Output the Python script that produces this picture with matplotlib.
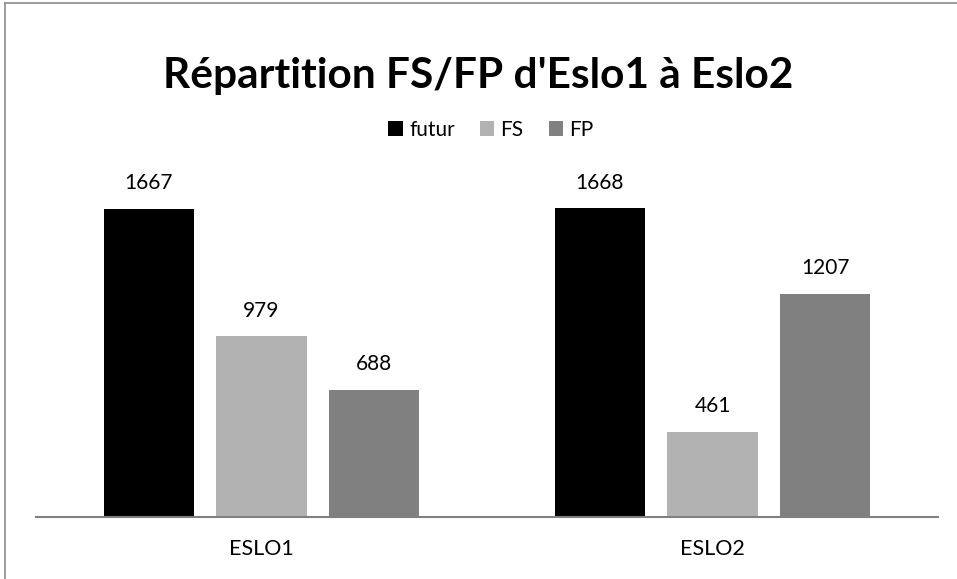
import matplotlib
matplotlib.use("Agg")
import matplotlib.pyplot as plt
from matplotlib.lines import Line2D
from matplotlib.patches import Patch
import numpy as np

categories = ["ESLO1", "ESLO2"]
series_names = ["futur", "FS", "FP"]
futur = [1667, 1668]
fs = [979, 461]
fp = [688, 1207]
colors = ["#000000", "#b2b2b2", "#808080"]

W, H = 957, 579
fig = plt.figure(figsize=(W / 100, H / 100), dpi=100)
fig.patch.set_facecolor("white")

ax = fig.add_axes([36 / W, (H - 517) / H, (938 - 36) / W, (517 - 184) / H])
x = np.arange(len(categories))
width = 0.2
offsets = [-0.25, 0.0, 0.25]
font = "Lato"
for vals, off, c, name in zip([futur, fs, fp], offsets, colors, series_names):
    bars = ax.bar(x + off, vals, width=width, color=c, label=name, zorder=2)
    for b, v in zip(bars, vals):
        ax.annotate(str(v), (b.get_x() + b.get_width() / 2, v), xytext=(0, 11),
                    textcoords="offset points", ha="center", va="bottom",
                    fontsize=15, family=font, color="#000000")

ax.set_xlim(-0.5, 1.5)
ax.set_ylim(0, 1800)
ax.set_yticks([])
ax.set_xticks(x)
ax.set_xticklabels(categories, fontsize=15.5, family=font)
ax.tick_params(axis="x", length=0, pad=16)
for s in ["top", "right", "left"]:
    ax.spines[s].set_visible(False)
ax.spines["bottom"].set_color("#808080")
ax.spines["bottom"].set_linewidth(1.5)
ax.set_facecolor("none")

fig.text(478 / W, 1 - 76 / H, "Répartition FS/FP d'Eslo1 à Eslo2", ha="center", va="center",
         fontsize=30.5, fontweight="bold", family=font)

handles = [Patch(facecolor=c, edgecolor="none") for c in colors]
fig.legend(handles, series_names, loc="center", bbox_to_anchor=(491 / W, 1 - 130 / H),
           ncol=3, frameon=False, prop={"family": font, "size": 15},
           handlelength=0.7, handleheight=0.7, handletextpad=0.3, columnspacing=1.2)

# outer chart border (left and top visible)
fig.add_artist(Line2D([5 / W, 5 / W], [0, 1 - 3 / H], color="#8c8c8c", lw=1.2, transform=fig.transFigure))
fig.add_artist(Line2D([5 / W, 1], [1 - 3 / H, 1 - 3 / H], color="#8c8c8c", lw=1.2, transform=fig.transFigure))

fig.savefig("out.png", dpi=100)
